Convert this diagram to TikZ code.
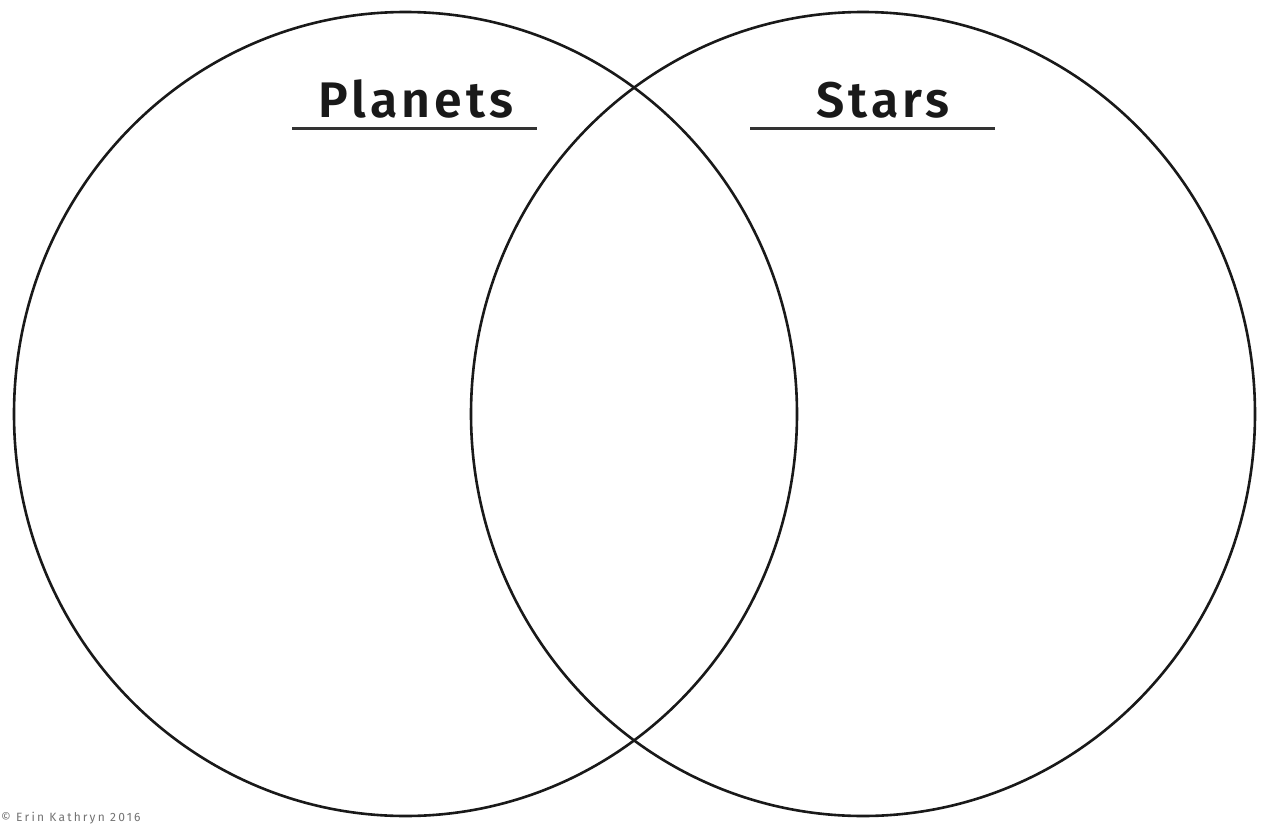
\documentclass[tikz,border=0pt]{standalone}
\usepackage{fontspec}
\setmainfont{Fira Sans}
\newfontfamily\titlefont[LetterSpace=8]{Fira Sans SemiBold}
\newfontfamily\smallfont[LetterSpace=18]{Fira Sans}
\begin{document}
\begin{tikzpicture}[x=1pt,y=-1pt,
  ring/.style={draw=black!90,line width=2.6pt},
  rule/.style={draw=black!80,line width=3pt},
  title/.style={font=\fontsize{50}{54}\titlefont,text=black!90,inner sep=0pt,anchor=base}]
\useasboundingbox[fill=white] (0,0) rectangle (1262,825);
\draw[ring] (405.5,414) ellipse [x radius=391.5,y radius=402];
\draw[ring] (863,414) ellipse [x radius=392,y radius=402];
\node[title] (planets) at (416,117) {Planets};
\node[title] (stars) at (883,117) {Stars};
\coordinate (pl1) at (292,128); \coordinate (pl2) at (537,128);
\coordinate (st1) at (750,128); \coordinate (st2) at (995,128);
\draw[rule] (pl1) -- (pl2);
\draw[rule] (st1) -- (st2);
\node[font=\fontsize{12}{13}\smallfont,text=black!55,anchor=base west,inner sep=0pt] (copy) at (1,821) {© Erin Kathryn 2016};
\end{tikzpicture}
\end{document}
